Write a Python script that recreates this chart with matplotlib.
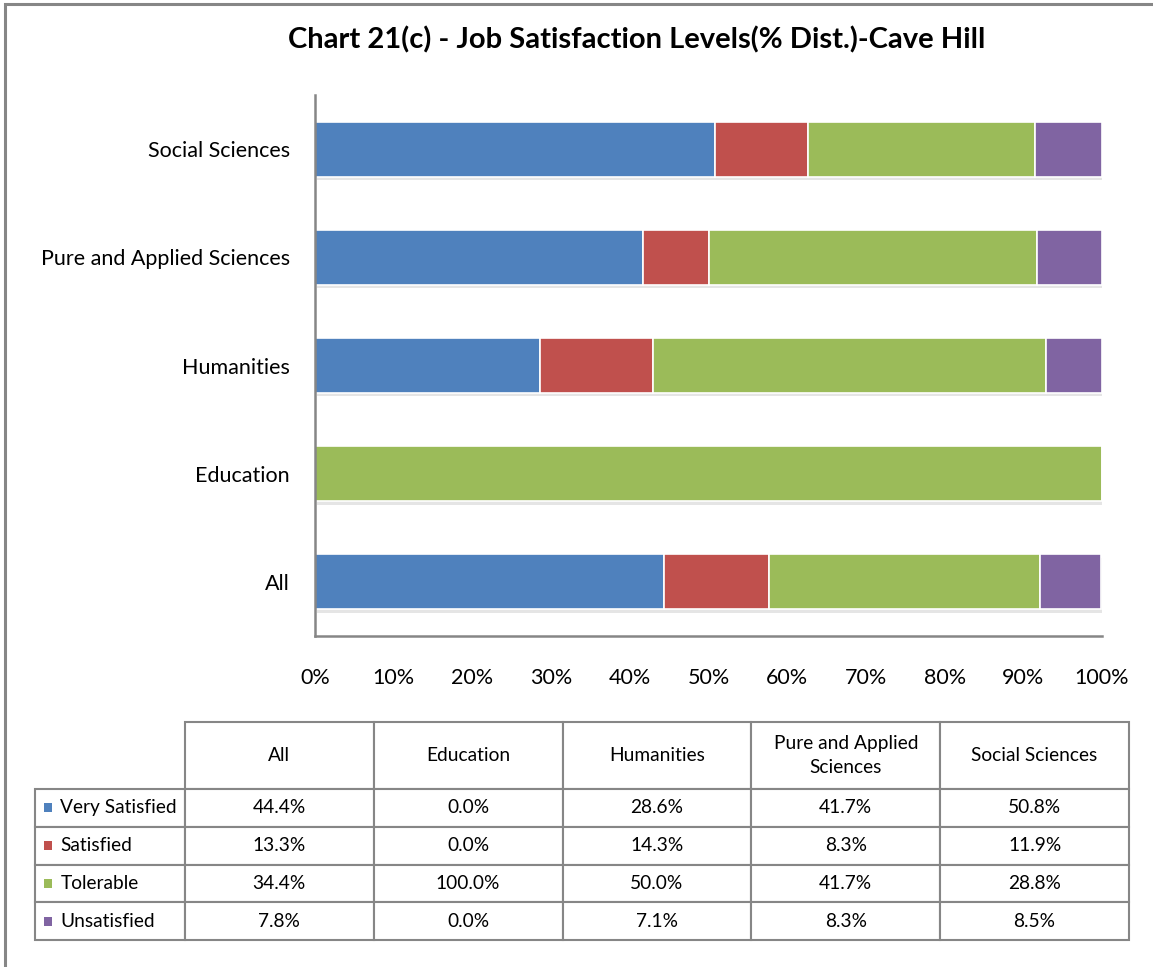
import matplotlib

matplotlib.use("Agg")
import matplotlib.pyplot as plt  # noqa: E402
from matplotlib.patches import Rectangle  # noqa: E402

plt.rcParams["font.family"] = ["Lato", "DejaVu Sans"]

# bottom-to-top order on the chart
CATEGORIES = ["All", "Education", "Humanities", "Pure and Applied Sciences", "Social Sciences"]
TABLE_HEADERS = ["All", "Education", "Humanities", "Pure and Applied\nSciences", "Social Sciences"]
LEVELS = ["Very Satisfied", "Satisfied", "Tolerable", "Unsatisfied"]
VERY_SATISFIED = [44.4, 0.0, 28.6, 41.7, 50.8]
SATISFIED = [13.3, 0.0, 14.3, 8.3, 11.9]
TOLERABLE = [34.4, 100.0, 50.0, 41.7, 28.8]
UNSATISFIED = [7.8, 0.0, 7.1, 8.3, 8.5]
COLORS = ["#4F81BD", "#C0504D", "#9BBB59", "#8064A2"]
XTICKS = [0, 10, 20, 30, 40, 50, 60, 70, 80, 90, 100]

series = [VERY_SATISFIED, SATISFIED, TOLERABLE, UNSATISFIED]
grey = "#868686"

fig = plt.figure(figsize=(11.53, 9.67), dpi=100)
# outer chart-area frame (only its top and left edges fall inside the image)
fig.patches.append(Rectangle((5 / 1153, -0.1), 1.2, 1.1 - 4 / 967,
                             transform=fig.transFigure, fill=False,
                             edgecolor=grey, linewidth=2.2))

ax = fig.add_axes([315 / 1153, 331 / 967, 787 / 1153, 541 / 967])
ypos = list(range(len(CATEGORIES)))
left = [0.0] * len(CATEGORIES)
for vals, color, name in zip(series, COLORS, LEVELS):
    # soft drop shadow under each segment
    ax.barh([y - 0.03 for y in ypos], vals, left=[l + 0.3 for l in left], height=0.51,
            color="#000000", alpha=0.10, linewidth=0, zorder=1)
    ax.barh(ypos, vals, left=left, height=0.51, color=color, edgecolor="white",
            linewidth=1.2, label=name, zorder=2)
    left = [l + v for l, v in zip(left, vals)]

ax.set_xlim(0, 100)
ax.set_ylim(-0.5, 4.5)
ax.set_xticks(XTICKS)
ax.set_xticklabels([f"{t}%" for t in XTICKS], fontsize=15.5)
ax.set_yticks(ypos)
ax.set_yticklabels(CATEGORIES, fontsize=15.5)
ax.tick_params(axis="x", length=0, pad=23)
ax.tick_params(axis="y", length=0, pad=18)
for side in ("top", "right"):
    ax.spines[side].set_visible(False)
for side in ("left", "bottom"):
    ax.spines[side].set_color(grey)
    ax.spines[side].set_linewidth(1.8)

fig.text(637 / 1153, 1 - 40 / 967, "Chart 21(c) - Job Satisfaction Levels(% Dist.)-Cave Hill",
         ha="center", va="center", fontsize=21, fontweight="bold")

# data table below the chart: first column holds the series names
cell_text = [[""] + TABLE_HEADERS]
for name, vals in zip(LEVELS, series):
    cell_text.append([name] + [f"{v:.1f}%" for v in vals])

tab_ax = fig.add_axes([35 / 1153, 27 / 967, 1094 / 1153, 218 / 967])
tab_ax.set_xlim(0, 1)
tab_ax.set_ylim(0, 1)
tab_ax.axis("off")
table = tab_ax.table(cellText=cell_text, cellLoc="center", bbox=[0, 0, 1, 1])
table.auto_set_font_size(False)
table.set_fontsize(13.8)
for (r, c), cell in table.get_celld().items():
    cell.set_edgecolor(grey)
    cell.set_linewidth(1.5)
    cell.set_width(150 if c == 0 else 189)
    cell.set_height(67 if r == 0 else 37.75)
    cell.get_text().set_linespacing(1.45)
    if c == 0:
        cell.PAD = 0.17
        cell.get_text().set_ha("left")
    if r == 0 and c == 0:
        cell.visible_edges = ""

row_h = 37.75 / 218
tab_ax.scatter([13 / 1094] * len(LEVELS), [(3.5 - i) * row_h for i in range(len(LEVELS))],
               marker="s", s=40, c=COLORS, linewidths=0, zorder=5, clip_on=False)

fig.savefig("out.png", dpi=100)
